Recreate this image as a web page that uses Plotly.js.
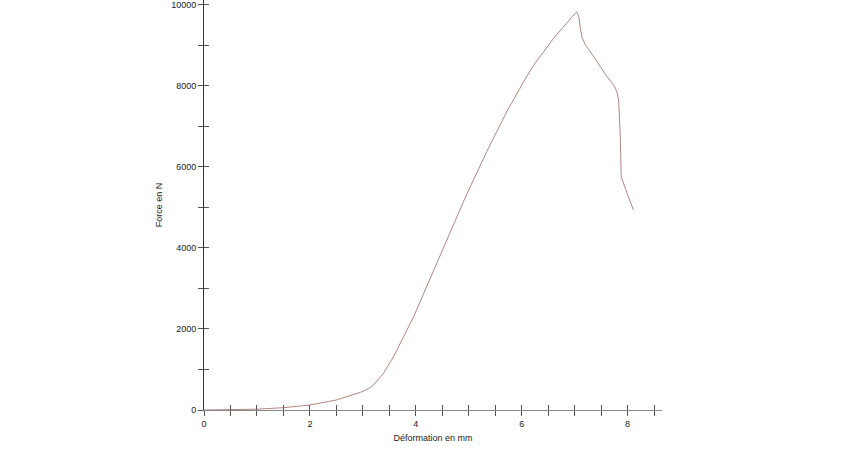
<!DOCTYPE html>
<html>
<head>
<meta charset="utf-8">
<script src="https://cdn.plot.ly/plotly-3.0.1.min.js"></script>
<style>html,body{margin:0;padding:0;background:#fff;}#chart{width:845px;height:475px;}</style>
</head>
<body>
<div id="chart"></div>
<script>
// Déformation (mm)
const deformation = [0, 0.5, 1, 1.5, 2, 2.5, 2.8, 2.95, 3.1, 3.2, 3.39, 3.58, 3.77, 3.96, 4.15, 4.33, 4.52, 4.68, 4.96, 5.34, 5.72, 6.07, 6.22, 6.6, 6.86, 6.96, 7.04, 7.08, 7.11, 7.14, 7.2, 7.3, 7.36, 7.5, 7.61, 7.72, 7.77, 7.81, 7.83, 7.86, 7.88, 7.99, 8.11];
// Force (N)
const force = [0, 5, 20, 57, 123, 247, 360, 435, 520, 617, 906, 1317, 1810, 2304, 2880, 3430, 4010, 4490, 5320, 6378, 7370, 8180, 8500, 9170, 9580, 9720, 9830, 9700, 9400, 9200, 9020, 8850, 8723, 8450, 8230, 8050, 7943, 7800, 7654, 6840, 5760, 5350, 4938];
const xTicks = [0, 2, 4, 6, 8];
const yTicks = [0, 2000, 4000, 6000, 8000, 10000];

const font = {family: 'Liberation Sans, Arial, sans-serif', size: 9, color: '#222'};
const xRange = [0, 8.65];
const yRange = [0, 10120];

const traces = [
  {x: deformation, y: force, type: 'scatter', mode: 'lines',
   line: {color: '#a87874', width: 0.9}, hoverinfo: 'none', showlegend: false},
  {x: deformation, y: force, xaxis: 'x2', yaxis: 'y2', type: 'scatter', mode: 'lines',
   line: {color: 'rgba(0,0,0,0)', width: 0}, hoverinfo: 'none', showlegend: false}
];

const layout = {
  width: 845, height: 475,
  margin: {l: 204, r: 183, t: 0, b: 65},
  paper_bgcolor: '#fff', plot_bgcolor: '#fff',
  font: font,
  showlegend: false,
  xaxis: {
    range: xRange, showgrid: false, zeroline: false,
    showline: true, linecolor: '#888', linewidth: 1,
    tickmode: 'array', tickvals: xTicks, ticktext: xTicks.map(String),
    ticks: 'outside', ticklen: 5, tickcolor: '#555', tickwidth: 1,
    minor: {dtick: 0.5, tick0: 0, ticks: 'outside', ticklen: 5, tickcolor: '#555', showgrid: false},
    tickfont: font,
    title: {text: 'Déformation en mm', font: font, standoff: 6}
  },
  yaxis: {
    range: yRange, showgrid: false, zeroline: false,
    showline: true, linecolor: '#333', linewidth: 1,
    tickmode: 'array', tickvals: yTicks, ticktext: yTicks.map(String),
    ticks: 'outside', ticklen: 5, tickcolor: '#555', tickwidth: 1,
    minor: {dtick: 1000, tick0: 0, ticks: 'outside', ticklen: 5, tickcolor: '#555', showgrid: false},
    tickfont: font,
    title: {text: 'Force en N', font: font, standoff: 7}
  },
  xaxis2: {
    overlaying: 'x', matches: 'x', range: xRange, showgrid: false, zeroline: false,
    showline: false, showticklabels: false,
    tickmode: 'array', tickvals: xTicks,
    ticks: 'inside', ticklen: 5, tickcolor: '#555',
    minor: {dtick: 0.5, tick0: 0, ticks: 'inside', ticklen: 5, tickcolor: '#555', showgrid: false}
  },
  yaxis2: {
    overlaying: 'y', matches: 'y', range: yRange, showgrid: false, zeroline: false,
    showline: false, showticklabels: false,
    tickmode: 'array', tickvals: yTicks,
    ticks: 'inside', ticklen: 5, tickcolor: '#555',
    minor: {dtick: 1000, tick0: 0, ticks: 'inside', ticklen: 5, tickcolor: '#555', showgrid: false}
  }
};

Plotly.newPlot('chart', traces, layout, {staticPlot: true, displayModeBar: false});
</script>
</body>
</html>
